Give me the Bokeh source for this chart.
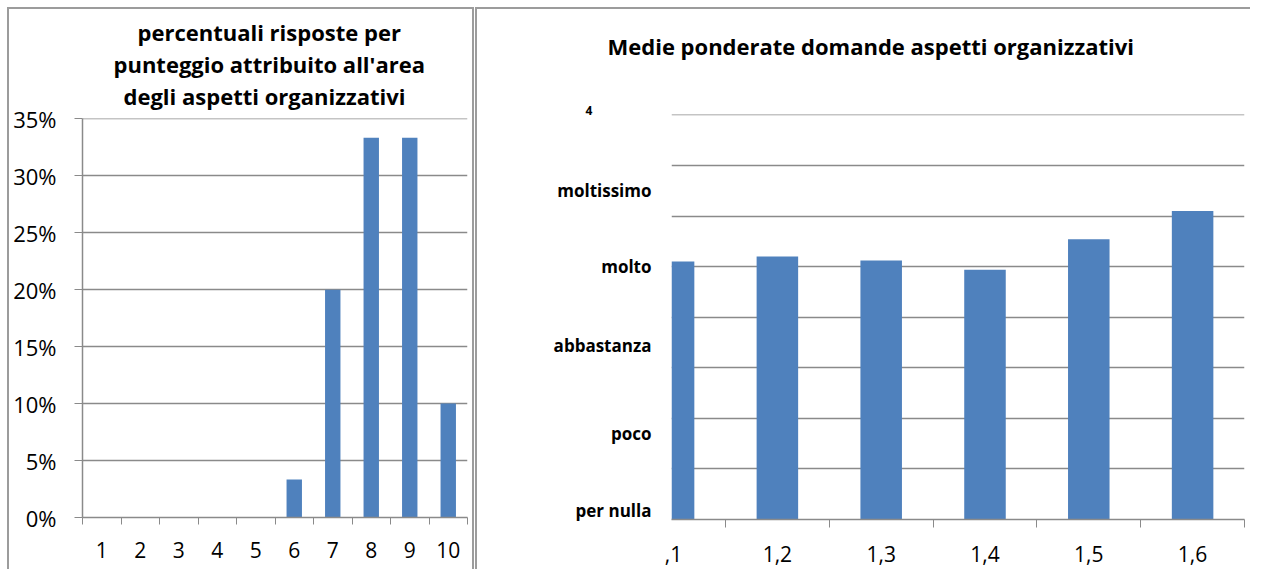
from bokeh.plotting import figure
from bokeh.layouts import row, column
from bokeh.models import FixedTicker, Title, NumeralTickFormatter, Range1d, Spacer
from bokeh.embed import file_html
from bokeh.resources import INLINE

# ---- data: left chart ----
score_labels = ["1", "2", "3", "4", "5", "6", "7", "8", "9", "10"]
score_pct = [0.0, 0.0, 0.0, 0.0, 0.0, 0.0333, 0.20, 0.3333, 0.3333, 0.10]
pct_ticks = [0.0, 0.05, 0.10, 0.15, 0.20, 0.25, 0.30, 0.35]
left_title = ["percentuali risposte per", "punteggio attribuito all'area", "degli aspetti organizzativi"]

# ---- data: right chart ----
question_labels = [",1", "1,2", "1,3", "1,4", "1,5", "1,6"]   # first label appears clipped in the original
question_means = [2.55, 2.60, 2.56, 2.47, 2.77, 3.05]
grid_ticks = [0.0, 0.5, 1.0, 1.5, 2.0, 2.5, 3.0, 3.5, 4.0]
scale_labels = ["per nulla", "poco", "abbastanza", "molto", "moltissimo"]
scale_label_pos = [0.09, 0.85, 1.72, 2.5, 3.25]
top_stub_label = "4"
right_title = "Medie ponderate domande aspetti organizzativi"

FONT = "Open Sans"
BLUE = "#4F81BD"
GRID = "#8a8a8a"
EDGE = {"background-color": "#9c9c9c"}
H = 560

# ================= left =================
xs = list(range(1, len(score_labels) + 1))
p1 = figure(width=463, height=H, x_range=Range1d(0.5, len(xs) + 0.5), y_range=Range1d(0, 0.3502),
            output_backend="svg", toolbar_location=None,
            min_border_left=73, min_border_right=5, min_border_top=109, min_border_bottom=52)
p1.vbar(x=xs, top=score_pct, width=0.4, fill_color=BLUE, line_color=None)
p1.outline_line_color = None

xa = p1.xaxis[0]
xa.ticker = FixedTicker(ticks=xs, minor_ticks=[x - 0.5 for x in xs] + [xs[-1] + 0.5])
xa.major_label_overrides = {x: lab for x, lab in zip(xs, score_labels)}
xa.major_tick_out = 0
xa.major_tick_in = 0
xa.minor_tick_out = 7
xa.minor_tick_in = 0
xa.minor_tick_line_color = GRID
xa.axis_line_color = GRID
xa.axis_line_width = 1.5
xa.major_label_standoff = 17
xa.major_label_text_font = FONT
xa.major_label_text_font_size = "21px"
xa.major_label_text_color = "black"

ya = p1.yaxis[0]
ya.ticker = FixedTicker(ticks=pct_ticks)
ya.formatter = NumeralTickFormatter(format="0%")
ya.major_tick_out = 8
ya.major_tick_in = 0
ya.minor_tick_out = 0
ya.major_tick_line_color = GRID
ya.axis_line_color = GRID
ya.axis_line_width = 1.5
ya.major_label_standoff = 18
ya.major_label_text_font = FONT
ya.major_label_text_font_size = "22px"
ya.major_label_text_color = "black"

p1.xgrid.visible = False
p1.ygrid.ticker = FixedTicker(ticks=pct_ticks)
p1.ygrid.grid_line_color = GRID
p1.ygrid.grid_line_width = 1.5

# small gap between frame and the title block, then the three title lines
p1.add_layout(Title(text=" ", text_font_size="1px", standoff=5), "above")
title_offsets = [55, 31, 41]
for line, off in reversed(list(zip(left_title, title_offsets))):
    p1.add_layout(Title(text=line, align="left", offset=off, text_font=FONT, text_font_size="22px",
                        text_font_style="bold", text_color="black", standoff=0), "above")

# ================= right =================
qx = list(range(1, len(question_labels) + 1))
p2 = figure(width=773, height=H, x_range=Range1d(0.98, len(qx) + 0.5), y_range=Range1d(0, 4.004),
            output_backend="svg", toolbar_location=None,
            min_border_left=194, min_border_right=6, min_border_top=105, min_border_bottom=50)
p2.vbar(x=qx, top=question_means, width=0.4, fill_color=BLUE, line_color=None)
p2.outline_line_color = None

xb = p2.xaxis[0]
xb.ticker = FixedTicker(ticks=qx, minor_ticks=[x + 0.5 for x in qx])
xb.major_label_overrides = {x: lab for x, lab in zip(qx, question_labels)}
xb.major_tick_out = 0
xb.major_tick_in = 0
xb.minor_tick_out = 8
xb.minor_tick_in = 0
xb.minor_tick_line_color = GRID
xb.axis_line_color = GRID
xb.axis_line_width = 1.5
xb.major_label_standoff = 18
xb.major_label_text_font = FONT
xb.major_label_text_font_size = "21px"
xb.major_label_text_color = "black"

yb = p2.yaxis[0]
yb.ticker = FixedTicker(ticks=scale_label_pos)
yb.major_label_overrides = {v: lab for v, lab in zip(scale_label_pos, scale_labels)}
yb.axis_line_color = None
yb.major_tick_line_color = None
yb.minor_tick_line_color = None
yb.major_tick_out = 0
yb.major_label_standoff = 20
yb.major_label_text_font = FONT
yb.major_label_text_font_size = "17px"
yb.major_label_text_font_style = "bold"
yb.major_label_text_color = "black"

p2.xgrid.visible = False
p2.ygrid.ticker = FixedTicker(ticks=grid_ticks)
p2.ygrid.grid_line_color = GRID
p2.ygrid.grid_line_width = 1.5

# stub "4" just above the plot area, spacer, then the main title
p2.add_layout(Title(text=top_stub_label, align="left", offset=-86, text_font=FONT, text_font_size="12px",
                    text_color="black", standoff=0), "above")
p2.add_layout(Title(text=" ", text_font_size="1px", standoff=35), "above")
p2.add_layout(Title(text=right_title, align="left", offset=-64, text_font=FONT, text_font_size="22px",
                    text_font_style="bold", text_color="black", standoff=10), "above")

# ================= panels with thin grey frames =================
left_panel = column(Spacer(width=463, height=2, styles=EDGE), p1, spacing=0)
right_panel = column(Spacer(width=773, height=2, styles=EDGE), p2, spacing=0)
body = row(Spacer(width=7, height=H + 2),
           Spacer(width=2, height=H + 2, styles=EDGE),
           left_panel,
           Spacer(width=2, height=H + 2, styles=EDGE),
           Spacer(width=1, height=H + 2),
           Spacer(width=2, height=H + 2, styles=EDGE),
           right_panel, spacing=0)
layout = column(Spacer(width=1250, height=7), body, spacing=0)
open("out.html", "w").write(file_html(layout, INLINE))
